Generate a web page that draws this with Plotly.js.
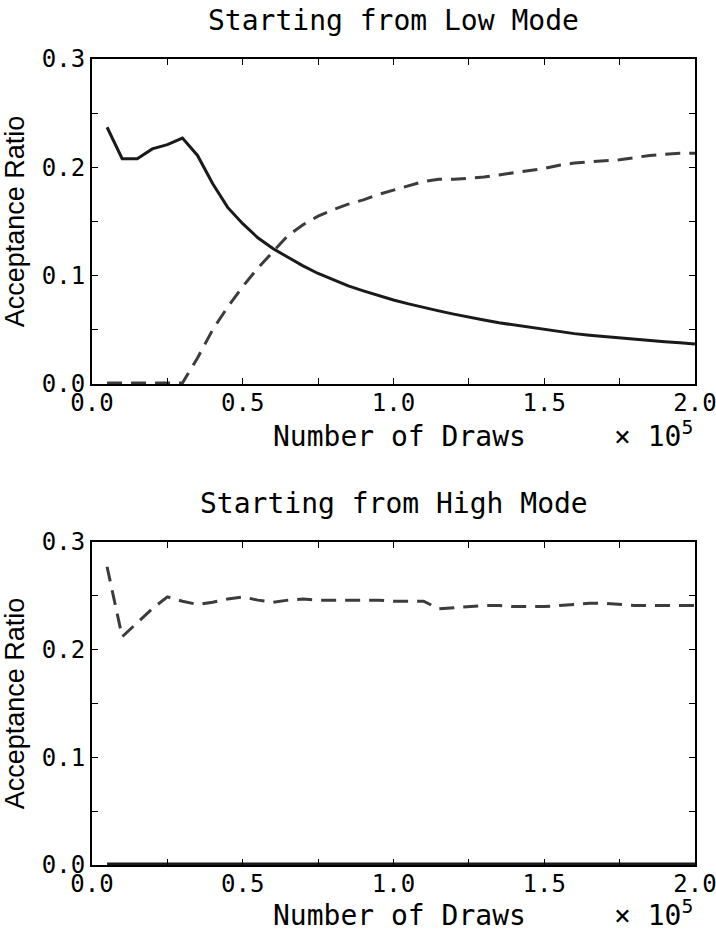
<!DOCTYPE html>
<html>
<head>
<meta charset="utf-8">
<script src="https://cdn.plot.ly/plotly-3.0.1.min.js"></script>
<style>html,body{margin:0;padding:0;background:#fff}</style>
</head>
<body>
<div id="chart" style="width:716px;height:934px"></div>
<script>
// Number of draws (x 10^5)
var draws = [0.05,0.10,0.15,0.20,0.25,0.30,0.35,0.40,0.45,0.50,
             0.55,0.60,0.65,0.70,0.75,0.80,0.85,0.90,0.95,1.00,
             1.05,1.10,1.15,1.20,1.25,1.30,1.35,1.40,1.45,1.50,
             1.55,1.60,1.65,1.70,1.75,1.80,1.85,1.90,1.95,2.00];

// Starting from Low Mode
var lowSolid = [0.237,0.208,0.208,0.217,0.221,0.227,0.211,0.185,0.163,0.148,
                0.135,0.125,0.117,0.109,0.102,0.096,0.0905,0.086,0.0815,0.0775,
                0.074,0.0705,0.0675,0.0645,0.0615,0.059,0.0565,0.0545,0.052,0.050,
                0.048,0.0465,0.045,0.0437,0.0425,0.0413,0.040,0.039,0.038,0.037];
var lowDashed = [0.001,0.001,0.001,0.001,0.001,0.001,0.024,0.050,0.071,0.090,
                 0.107,0.122,0.137,0.147,0.155,0.161,0.166,0.170,0.175,0.179,
                 0.183,0.187,0.189,0.189,0.190,0.191,0.193,0.195,0.197,0.199,
                 0.202,0.204,0.205,0.206,0.207,0.209,0.211,0.212,0.213,0.213];

// Starting from High Mode
var highSolid = [0.001,0.001,0.001,0.001,0.001,0.001,0.001,0.001,0.001,0.001,
                 0.001,0.001,0.001,0.001,0.001,0.001,0.001,0.001,0.001,0.001,
                 0.001,0.001,0.001,0.001,0.001,0.001,0.001,0.001,0.001,0.001,
                 0.001,0.001,0.001,0.001,0.001,0.001,0.001,0.001,0.001,0.001];
var highDashed = [0.277,0.212,0.225,0.238,0.249,0.245,0.242,0.244,0.247,0.249,
                  0.246,0.244,0.246,0.247,0.246,0.246,0.246,0.246,0.246,0.245,
                  0.245,0.245,0.238,0.239,0.240,0.241,0.241,0.240,0.240,0.240,
                  0.241,0.242,0.243,0.243,0.242,0.241,0.241,0.241,0.241,0.241];

// Tick labels
var xTickVals = [0,0.25,0.5,0.75,1.0,1.25,1.5,1.75,2.0];
var xTickText = ['0.0','','0.5','','1.0','','1.5','','2.0'];
var yTickVals = [0,0.05,0.1,0.15,0.2,0.25,0.3];
var yTickText = ['0.0','','0.1','','0.2','','0.3'];

var titles = ['Starting from Low Mode','Starting from High Mode'];
var xTitle = 'Number of Draws';
var yTitle = 'Acceptance Ratio';
var scaleText = '× 10<sup>5</sup>';

var mono = 'DejaVu Sans Mono';
var solidStyle = {color:'#1a1a1a', width:3};
var dashStyle = {color:'#3c3c3c', width:3, dash:'15px,9px'};

var traces = [
  {x:draws, y:lowSolid, xaxis:'x', yaxis:'y', mode:'lines', line:solidStyle},
  {x:draws, y:lowDashed, xaxis:'x', yaxis:'y', mode:'lines', line:dashStyle},
  {x:draws, y:highSolid, xaxis:'x2', yaxis:'y2', mode:'lines', line:solidStyle},
  {x:draws, y:highDashed, xaxis:'x2', yaxis:'y2', mode:'lines', line:dashStyle}
];

function xAxis(anchor){
  return {anchor:anchor, range:[0,2.0001], tickmode:'array', tickvals:xTickVals, ticktext:xTickText,
    ticks:'inside', ticklen:6, tickwidth:1.2, tickcolor:'#000', showline:true, linecolor:'#000', linewidth:2,
    mirror:'ticks', showgrid:false, zeroline:false, ticklabeloverflow:'allow', ticklabelstandoff:-4,
    tickfont:{family:mono, size:24, color:'#000'}};
}
function yAxis(anchor, domain){
  return {anchor:anchor, domain:domain, range:[0,0.3], tickmode:'array', tickvals:yTickVals, ticktext:yTickText,
    ticks:'inside', ticklen:6, tickwidth:1.2, tickcolor:'#000', showline:true, linecolor:'#000', linewidth:2,
    mirror:'ticks', showgrid:false, zeroline:false, ticklabeloverflow:'allow',
    tickfont:{family:mono, size:24, color:'#000'},
    title:{text:yTitle, font:{family:'Liberation Sans', size:27, color:'#000'}, standoff:12}};
}

var H = 806; // plot-area height in px (934 - 59 - 69)
function py(p){ return (865 - p)/H; }

var annFont = {family:mono, size:28, color:'#000'};
var layout = {
  width:716, height:934,
  margin:{l:92, r:21, t:59, b:69},
  paper_bgcolor:'#fff', plot_bgcolor:'#fff',
  showlegend:false,
  xaxis: xAxis('y'),
  yaxis: yAxis('x', [481/806, 1]),
  xaxis2: xAxis('y2'),
  yaxis2: yAxis('x2', [0, 323/806]),
  annotations: [
    {text:titles[0], xref:'paper', yref:'paper', x:0.5, y:py(20), xanchor:'center', yanchor:'middle', showarrow:false, font:annFont},
    {text:titles[1], xref:'paper', yref:'paper', x:0.5, y:py(503), xanchor:'center', yanchor:'middle', showarrow:false, font:annFont},
    {text:xTitle, xref:'paper', yref:'paper', x:0.51, y:py(436), xanchor:'center', yanchor:'middle', showarrow:false, font:annFont},
    {text:xTitle, xref:'paper', yref:'paper', x:0.51, y:py(915), xanchor:'center', yanchor:'middle', showarrow:false, font:annFont},
    {text:scaleText, xref:'paper', yref:'paper', x:1.0, y:py(435), xanchor:'right', yanchor:'middle', showarrow:false, font:annFont},
    {text:scaleText, xref:'paper', yref:'paper', x:1.0, y:py(934), xanchor:'right', yanchor:'bottom', showarrow:false, font:annFont}
  ]
};

Plotly.newPlot('chart', traces, layout, {staticPlot:true, displayModeBar:false});
</script>
</body>
</html>
